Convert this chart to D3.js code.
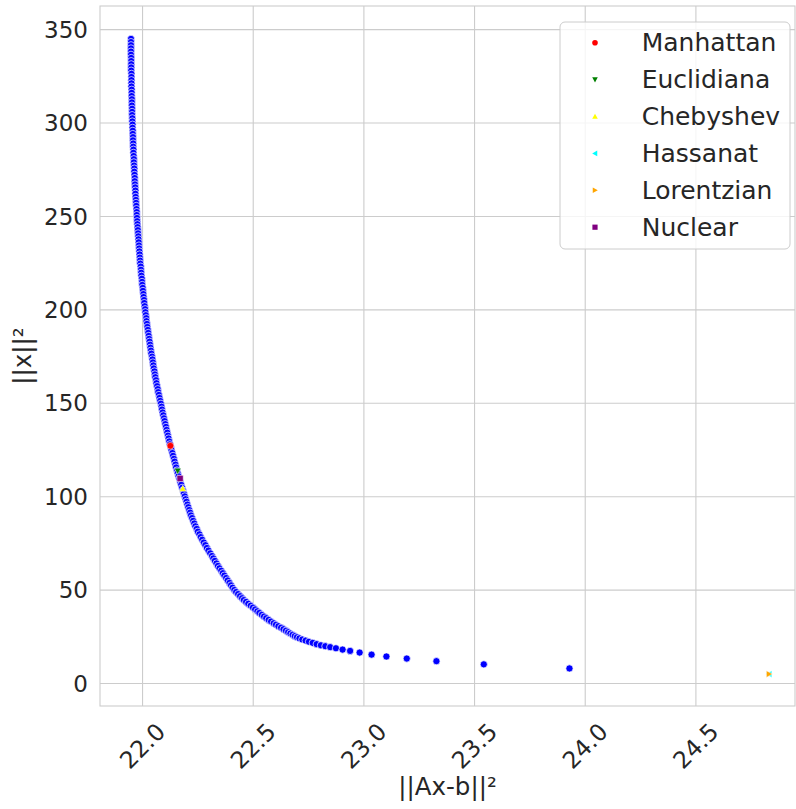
<!DOCTYPE html>
<html>
<head>
<meta charset="utf-8">
<script src="https://cdn.jsdelivr.net/npm/d3@7"></script>
<style>
  html, body { margin: 0; padding: 0; background: #fff; }
  svg { display: block; font-family: "DejaVu Sans", sans-serif; }
</style>
</head>
<body>
<svg id="chart" width="796" height="809"></svg>
<script>
// L-curve: residual norm ||Ax-b||² against solution norm ||x||² over the regularization path
const residualNorm = [
  21.950, 21.950, 21.950, 21.950, 21.950, 21.950, 21.951, 21.951, 21.951, 21.951,
  21.951, 21.952, 21.952, 21.952, 21.952, 21.952, 21.953, 21.953, 21.953, 21.954,
  21.954, 21.954, 21.955, 21.955, 21.955, 21.956,
  21.956, 21.957, 21.957, 21.958, 21.958, 21.959, 21.959, 21.960, 21.960, 21.961,
  21.961, 21.962, 21.963, 21.963, 21.964, 21.965, 21.965, 21.966, 21.967, 21.967,
  21.968, 21.969, 21.970, 21.970, 21.971,
  21.972, 21.973, 21.974, 21.975, 21.976, 21.976, 21.977, 21.978, 21.979, 21.980,
  21.981, 21.982, 21.983, 21.984, 21.985, 21.986, 21.987, 21.988, 21.989, 21.990,
  21.991, 21.992, 21.994, 21.995, 21.996, 21.997, 21.999, 22.000, 22.001, 22.003,
  22.004, 22.006, 22.007, 22.009, 22.010, 22.012, 22.014,
  22.015, 22.017, 22.019, 22.020, 22.022, 22.024, 22.026, 22.028, 22.030, 22.032,
  22.034, 22.036, 22.038, 22.040, 22.042, 22.045, 22.047, 22.049, 22.051, 22.053,
  22.056, 22.058, 22.060, 22.063, 22.065, 22.068, 22.071, 22.073, 22.076, 22.079,
  22.082, 22.085, 22.088, 22.090, 22.093, 22.096, 22.099, 22.102, 22.105, 22.108,
  22.111, 22.114, 22.117, 22.120, 22.123, 22.126, 22.130, 22.133, 22.137, 22.140,
  22.144, 22.147, 22.151, 22.154, 22.158, 22.161, 22.165, 22.169, 22.173, 22.177,
  22.181, 22.185, 22.189, 22.193,
  22.197, 22.201, 22.205, 22.209, 22.213, 22.217, 22.221, 22.226, 22.231, 22.236,
  22.241, 22.247, 22.252, 22.259, 22.265, 22.272, 22.279, 22.286, 22.293, 22.300,
  22.308,
  22.316, 22.322, 22.329, 22.336, 22.343, 22.350, 22.358, 22.365, 22.372, 22.380,
  22.387, 22.395, 22.402, 22.409, 22.417,
  22.425, 22.434, 22.443, 22.452, 22.460, 22.470, 22.480, 22.491,
  22.501, 22.511, 22.521, 22.530, 22.541, 22.551, 22.561, 22.572, 22.583, 22.595,
  22.605, 22.616, 22.628, 22.639, 22.650, 22.660, 22.670, 22.680,
  22.690, 22.700, 22.711, 22.724, 22.739, 22.754, 22.771, 22.789, 22.808, 22.828,
  22.850, 22.876, 22.906, 22.940, 22.983, 23.037, 23.104, 23.196, 23.330, 23.544,
  23.931
];
const solutionNorm = [
  344.8, 343.1, 341.4, 339.7, 338.0, 336.3, 334.6, 332.9, 331.2, 329.5,
  327.8, 326.1, 324.4, 322.7, 321.0, 319.3, 317.6, 315.9, 314.2, 312.5,
  310.8, 309.1, 307.4, 305.7, 304.0, 302.3,
  300.6, 298.9, 297.2, 295.6, 293.9, 292.2, 290.5, 288.8, 287.1, 285.5,
  283.8, 282.1, 280.4, 278.7, 277.0, 275.4, 273.7, 272.0, 270.3, 268.6,
  266.9, 265.3, 263.6, 261.9, 260.2,
  258.6, 257.0, 255.4, 253.7, 252.1, 250.5, 248.9, 247.2, 245.6, 244.0,
  242.4, 240.7, 239.1, 237.5, 235.9, 234.2, 232.6, 231.0, 229.4, 227.7,
  226.1, 224.5, 222.9, 221.2, 219.6, 218.0, 216.4, 214.7, 213.1, 211.5,
  209.9, 208.2, 206.6, 205.0, 203.4, 201.7, 200.1,
  198.5, 196.9, 195.3, 193.7, 192.2, 190.6, 189.0, 187.4, 185.8, 184.2,
  182.7, 181.1, 179.5, 177.9, 176.3, 174.7, 173.2, 171.6, 170.0, 168.4,
  166.8, 165.2, 163.7, 162.1, 160.5, 158.9, 157.3, 155.7, 154.2, 152.6,
  151.0, 149.5, 147.9, 146.4, 144.8, 143.3, 141.7, 140.2, 138.6, 137.1,
  135.5, 134.0, 132.4, 130.9, 129.3, 127.8, 126.2, 124.7, 123.1, 121.6,
  120.0, 118.5, 116.9, 115.4, 113.8, 112.3, 110.7, 109.2, 107.6, 106.1,
  104.5, 103.0, 101.4, 99.9,
  98.4, 97.0, 95.5, 94.1, 92.6, 91.2, 89.7, 88.3, 86.8, 85.4,
  83.9, 82.5, 81.0, 79.6, 78.1, 76.7, 75.2, 73.8, 72.3, 70.9,
  69.4,
  68.0, 66.7, 65.4, 64.0, 62.7, 61.4, 60.1, 58.8, 57.5, 56.2,
  54.9, 53.6, 52.3, 51.0, 49.8,
  48.7, 47.6, 46.5, 45.4, 44.4, 43.4, 42.4, 41.4,
  40.4, 39.4, 38.4, 37.5, 36.5, 35.6, 34.7, 33.8, 32.9, 32.0,
  31.2, 30.4, 29.6, 28.8, 28.0, 27.2, 26.5, 25.8,
  25.1, 24.5, 23.9, 23.3, 22.7, 22.1, 21.5, 20.8, 20.2, 19.7,
  19.2, 18.6, 17.9, 17.2, 16.3, 15.2, 14.2, 13.1, 11.7, 10.0,
  7.8
];

// Parameter chosen by each distance criterion
const methodNames = ["Manhattan", "Euclidiana", "Chebyshev", "Hassanat", "Lorentzian", "Nuclear"];
const methodResidual = [22.128, 22.161, 22.184, 24.833, 24.833, 22.172];
const methodNorm = [127.0, 113.5, 104.1, 4.8, 4.8, 109.5];

const xTicks = [22.0, 22.5, 23.0, 23.5, 24.0, 24.5];
const yTicks = [0, 50, 100, 150, 200, 250, 300, 350];
const xLimits = [21.81, 24.95];
const yLimits = [-12.3, 362.4];

// marker styling per method
const methodStyle = {
  Manhattan:  { color: "#ff0000", symbol: "circle" },
  Euclidiana: { color: "#008000", symbol: "down" },
  Chebyshev:  { color: "#ffff00", symbol: "up" },
  Hassanat:   { color: "#00ffff", symbol: "left" },
  Lorentzian: { color: "#ffa500", symbol: "right" },
  Nuclear:    { color: "#800080", symbol: "square" }
};

const W = 796, H = 809;
const m = { left: 100, right: 1, top: 6, bottom: 103 };
const pw = W - m.left - m.right, ph = H - m.top - m.bottom;
const textColor = "#262626", gridColor = "#cccccc";

const svg = d3.select("#chart");
const g = svg.append("g").attr("transform", `translate(${m.left},${m.top})`);

const x = d3.scaleLinear().domain(xLimits).range([0, pw]);
const y = d3.scaleLinear().domain(yLimits).range([ph, 0]);

// grid + ticks
const xAxis = g.append("g").attr("transform", `translate(0,${ph})`)
  .call(d3.axisBottom(x).tickValues(xTicks).tickSize(-ph).tickFormat(d3.format(".1f")));
const yAxis = g.append("g")
  .call(d3.axisLeft(y).tickValues(yTicks).tickSize(-pw).tickPadding(12).tickFormat(d3.format("d")));

[xAxis, yAxis].forEach(a => {
  a.select(".domain").remove();
  a.selectAll(".tick line").attr("stroke", gridColor).attr("stroke-width", 1.1);
  a.selectAll(".tick text").attr("fill", textColor).attr("font-size", 23)
    .attr("font-family", "DejaVu Sans, sans-serif");
});
yAxis.selectAll(".tick text").attr("dy", "0.35em");
xAxis.selectAll(".tick text")
  .attr("y", null).attr("dy", null)
  .attr("font-size", 23.5)
  .attr("text-anchor", "middle")
  .attr("dominant-baseline", "central")
  .attr("transform", "translate(0,40) rotate(-45)");

// axes frame
g.append("rect").attr("width", pw).attr("height", ph)
  .attr("fill", "none").attr("stroke", gridColor).attr("stroke-width", 1.1);

// symbol path generator (radius r)
function symbolPath(kind, r) {
  switch (kind) {
    case "circle": return d3.symbol().type(d3.symbolCircle).size(Math.PI * r * r)();
    case "square": return `M${-r},${-r}H${r}V${r}H${-r}Z`;
    case "up":    return `M0,${-r}L${r},${r * 0.8}L${-r},${r * 0.8}Z`;
    case "down":  return `M0,${r}L${r},${-r * 0.8}L${-r},${-r * 0.8}Z`;
    case "left":  return `M${-r},0L${r * 0.8},${-r}L${r * 0.8},${r}Z`;
    case "right": return `M${r},0L${-r * 0.8},${-r}L${-r * 0.8},${r}Z`;
  }
}

// L-curve points
const curve = residualNorm.map((v, i) => ({ rx: v, nx: solutionNorm[i] }));
g.append("g").selectAll("circle").data(curve).join("circle")
  .attr("cx", d => x(d.rx)).attr("cy", d => y(d.nx)).attr("r", 3.6)
  .attr("fill", "#0000ff").attr("stroke", "#ffffff").attr("stroke-width", 0.7);

// selected parameters
const picks = methodNames.map((n, i) => ({ name: n, rx: methodResidual[i], nx: methodNorm[i] }));
g.append("g").selectAll("path").data(picks).join("path")
  .attr("transform", d => `translate(${x(d.rx)},${y(d.nx)})`)
  .attr("d", d => symbolPath(methodStyle[d.name].symbol, d.name === "Nuclear" ? 3.1 : 3.4))
  .attr("fill", d => methodStyle[d.name].color)
  .attr("stroke", "#ffffff").attr("stroke-width", 0.5);

// axis labels
svg.append("text").attr("x", m.left + pw / 2).attr("y", 795)
  .attr("text-anchor", "middle").attr("fill", textColor).attr("font-size", 24.5)
  .text("||Ax-b||²");
svg.append("text").attr("transform", `translate(31,${m.top + ph / 2}) rotate(-90)`)
  .attr("text-anchor", "middle").attr("fill", textColor).attr("font-size", 24.5)
  .text("||x||²");

// legend
const lg = svg.append("g").attr("transform", "translate(560,22)");
lg.append("rect").attr("width", 230).attr("height", 227).attr("rx", 5)
  .attr("fill", "#ffffff").attr("fill-opacity", 0.8)
  .attr("stroke", gridColor).attr("stroke-width", 1);
const rows = lg.selectAll("g.row").data(methodNames).join("g")
  .attr("transform", (d, i) => `translate(0,${20.7 + i * 36.9})`);
rows.append("path").attr("transform", "translate(35,0)")
  .attr("d", d => symbolPath(methodStyle[d].symbol, d === "Nuclear" ? 2.6 : 2.8))
  .attr("fill", d => methodStyle[d].color);
rows.append("text").attr("x", 81.7).attr("y", 8.6)
  .attr("fill", textColor).attr("font-size", 25).text(d => d);
</script>
</body>
</html>
